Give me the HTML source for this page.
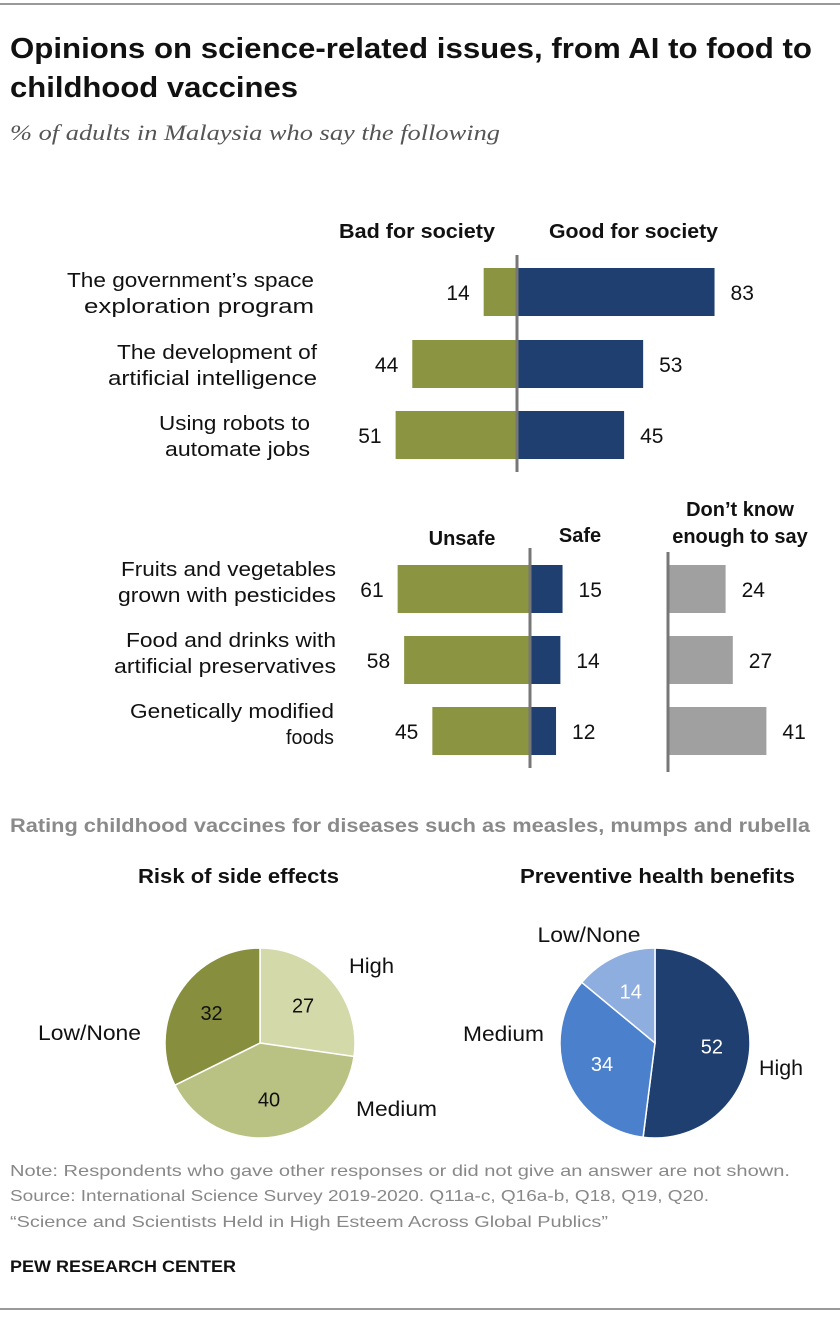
<!DOCTYPE html>
<html><head><meta charset="utf-8"><style>
body{margin:0;background:#fff;}
svg text{font-family:"Liberation Sans",Arial,sans-serif;}
</style></head><body>
<svg id="c" width="840" height="1316" xmlns="http://www.w3.org/2000/svg">
<line x1="0" y1="4" x2="840" y2="4" stroke="#333" stroke-width="1"/>
<text x="10" y="58" font-size="29" font-weight="bold" fill="#111" textLength="802" lengthAdjust="spacingAndGlyphs">Opinions on science-related issues, from AI to food to</text>
<text x="10" y="97" font-size="29" font-weight="bold" fill="#111" textLength="288" lengthAdjust="spacingAndGlyphs">childhood vaccines</text>
<text x="10" y="140" font-size="22" font-style="italic" fill="#555" textLength="490" lengthAdjust="spacingAndGlyphs" style="font-family:'Liberation Serif',serif">% of adults in Malaysia who say the following</text>
<text x="339" y="238" font-size="20" font-weight="bold" fill="#111" textLength="156" lengthAdjust="spacingAndGlyphs">Bad for society</text>
<text x="549" y="238" font-size="20" font-weight="bold" fill="#111" textLength="169" lengthAdjust="spacingAndGlyphs">Good for society</text>
<text x="462" y="545" font-size="20" font-weight="bold" text-anchor="middle" fill="#111">Unsafe</text>
<text x="580" y="542" font-size="20" font-weight="bold" text-anchor="middle" fill="#111">Safe</text>
<text x="740" y="516" font-size="20" font-weight="bold" text-anchor="middle" fill="#111">Don’t know</text>
<text x="740" y="543" font-size="20" font-weight="bold" text-anchor="middle" fill="#111">enough to say</text>
<g id="bars1"></g><g id="bars2"></g>
<text x="10" y="832" font-size="19" font-weight="bold" fill="#8a8a8a" textLength="800" lengthAdjust="spacingAndGlyphs">Rating childhood vaccines for diseases such as measles, mumps and rubella</text>
<text x="138" y="883" font-size="20" font-weight="bold" fill="#111" textLength="201" lengthAdjust="spacingAndGlyphs">Risk of side effects</text>
<text x="520" y="883" font-size="20" font-weight="bold" fill="#111" textLength="275" lengthAdjust="spacingAndGlyphs">Preventive health benefits</text>
<g id="pies"></g>
<text x="10" y="1176" font-size="16" fill="#888" textLength="780" lengthAdjust="spacingAndGlyphs">Note: Respondents who gave other responses or did not give an answer are not shown.</text>
<text x="10" y="1201" font-size="16" fill="#888" textLength="699" lengthAdjust="spacingAndGlyphs">Source: International Science Survey 2019-2020. Q11a-c, Q16a-b, Q18, Q19, Q20.</text>
<text x="10" y="1227" font-size="16" fill="#888" textLength="598" lengthAdjust="spacingAndGlyphs">“Science and Scientists Held in High Esteem Across Global Publics”</text>
<text x="10" y="1272" font-size="17" font-weight="bold" fill="#111" textLength="226" lengthAdjust="spacingAndGlyphs">PEW RESEARCH CENTER</text>
<line x1="0" y1="1309" x2="840" y2="1309" stroke="#333" stroke-width="1"/>
</svg>
<script>
const societyLabels=[["The government’s space","exploration program"],["The development of","artificial intelligence"],["Using robots to","automate jobs"]];
const badValues=[14,44,51];
const goodValues=[83,53,45];
const foodLabels=[["Fruits and vegetables","grown with pesticides"],["Food and drinks with","artificial preservatives"],["Genetically modified","foods"]];
const unsafeValues=[61,58,45];
const safeValues=[15,14,12];
const dkValues=[24,27,41];
const riskLabels=["High","Medium","Low/None"];
const riskValues=[27,40,32];
const benefitLabels=["High","Medium","Low/None"];
const benefitValues=[52,34,14];

const NS="http://www.w3.org/2000/svg";
function mk(parent,tag,attrs,txt){const e=document.createElementNS(NS,tag);for(const k in attrs)e.setAttribute(k,attrs[k]);if(txt!==undefined)e.textContent=txt;parent.appendChild(e);return e;}
const GREEN="#8a9441",NAVY="#1f3f71",GRAY="#a0a0a0";
const g1=document.getElementById('bars1'),g2=document.getElementById('bars2'),gp=document.getElementById('pies');
const socW=[[247,230],[200,209],[151,145]];
const foodW=[[215,218],[210,222],[204,48]];
const ax1=517,s1=2.38,rowY1=[268,340,411],h=48;
badValues.forEach((v,i)=>{
 const y=rowY1[i],w=v*s1;
 let r=mk(g1,'rect',{x:ax1-w,y:y,width:w,height:h,fill:GREEN});
 
 let t=mk(g1,'text',{x:ax1-w-14,y:y+32,'font-size':21,'text-anchor':'end',fill:'#111'},v);
 
 const gw=goodValues[i]*s1;
 r=mk(g1,'rect',{x:ax1,y:y,width:gw,height:h,fill:NAVY});
 
 t=mk(g1,'text',{x:ax1+gw+16,y:y+32,'font-size':21,fill:'#111'},goodValues[i]);
 
 societyLabels[i].forEach((l,j)=>{const tt=mk(g1,'text',{x:i==2?310:(i==1?317:314),y:y+19+j*26,'font-size':20,'text-anchor':'end',fill:'#111',textLength:socW[i][j],lengthAdjust:'spacingAndGlyphs'},l);
 });
});
let ln=mk(g1,'line',{x1:ax1,y1:255,x2:ax1,y2:472,stroke:'#777','stroke-width':3});

const ax2=530,s2=2.17,ax3=668,s3=2.4,rowY2=[565,636,707];
unsafeValues.forEach((v,i)=>{
 const y=rowY2[i],w=v*s2;
 let r=mk(g2,'rect',{x:ax2-w,y:y,width:w,height:h,fill:GREEN});
 
 let t=mk(g2,'text',{x:ax2-w-14,y:y+32,'font-size':21,'text-anchor':'end',fill:'#111'},v);
 
 const sw=safeValues[i]*s2;
 r=mk(g2,'rect',{x:ax2,y:y,width:sw,height:h,fill:NAVY});
 
 t=mk(g2,'text',{x:ax2+sw+16,y:y+32,'font-size':21,fill:'#111'},safeValues[i]);
 
 const dw=dkValues[i]*s3;
 r=mk(g2,'rect',{x:ax3,y:y,width:dw,height:h,fill:GRAY});
 
 t=mk(g2,'text',{x:ax3+dw+16,y:y+32,'font-size':21,fill:'#111'},dkValues[i]);
 
 foodLabels[i].forEach((l,j)=>{const tt=mk(g2,'text',{x:i==2?334:336,y:y+11+j*26,'font-size':20,'text-anchor':'end',fill:'#111',textLength:foodW[i][j],lengthAdjust:'spacingAndGlyphs'},l);
 });
});
ln=mk(g2,'line',{x1:ax2,y1:548,x2:ax2,y2:768,stroke:'#777','stroke-width':3});

ln=mk(g2,'line',{x1:ax3,y1:552,x2:ax3,y2:772,stroke:'#777','stroke-width':3});

function pie(cx,cy,R,vals,labels,colors,txtColors,labelPos,name){
 const tot=vals.reduce((a,b)=>a+b,0);let a0=-Math.PI/2;
 vals.forEach((v,i)=>{
  const a1=a0+v/tot*2*Math.PI;
  const x0=cx+R*Math.cos(a0),y0=cy+R*Math.sin(a0),x1=cx+R*Math.cos(a1),y1=cy+R*Math.sin(a1);
  const p=mk(gp,'path',{d:`M${cx},${cy}L${x0},${y0}A${R},${R} 0 ${a1-a0>Math.PI?1:0} 1 ${x1},${y1}Z`,fill:colors[i],stroke:'#fff','stroke-width':1.5});
  
  const am=(a0+a1)/2,rr=R*0.6;
  const t=mk(gp,'text',{x:cx+rr*Math.cos(am),y:cy+rr*Math.sin(am)+7,'font-size':20,'text-anchor':'middle',fill:txtColors[i]},v);
  
  const lp=labelPos[i];
  const l=mk(gp,'text',{x:lp[0],y:lp[1],'font-size':21,'text-anchor':lp[2],fill:'#111',textLength:lp[3],lengthAdjust:'spacingAndGlyphs'},labels[i]);
  
  a0=a1;
 });
}
pie(260,1043,95,riskValues,riskLabels,["#d3d9a9","#b9c282","#878f3f"],["#111","#111","#111"],[[349,973,'start',45],[356,1116,'start',81],[141,1040,'end',103]],'risk-pie');
pie(655,1043,95,benefitValues,benefitLabels,["#1f3f71","#4a80cc","#8eaee0"],["#fff","#fff","#fff"],[[759,1075,'start',44],[544,1041,'end',81],[589,942,'middle',103]],'benefit-pie');
</script>
</body></html>
